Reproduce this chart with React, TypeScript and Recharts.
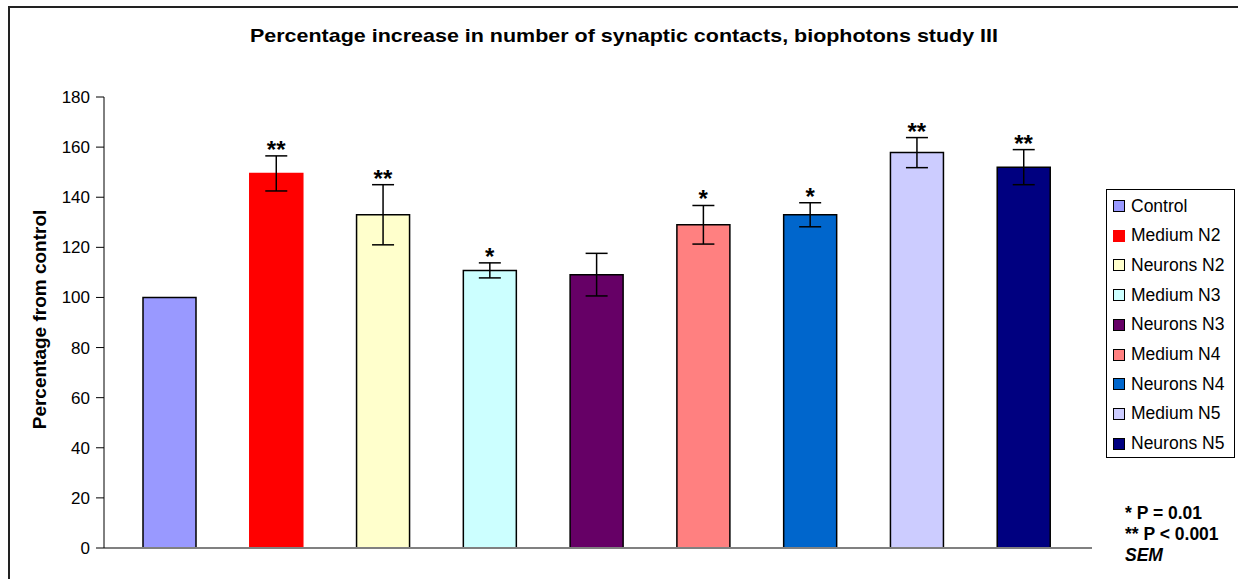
import React from 'react';
import {
  ComposedChart,
  Bar,
  Cell,
  ErrorBar,
  Scatter,
  XAxis,
  YAxis,
} from 'recharts';

const groups = [
  'Control',
  'Medium N2',
  'Neurons N2',
  'Medium N3',
  'Neurons N3',
  'Medium N4',
  'Neurons N4',
  'Medium N5',
  'Neurons N5',
];
const percentages = [100, 149.5, 133, 110.8, 109.1, 129, 133, 157.8, 152];
const sem = [0, 7, 12, 3, 8.5, 7.7, 4.8, 6, 7];
const significance = ['', '**', '**', '*', '', '*', '*', '**', '**'];
const yTicks = [0, 20, 40, 60, 80, 100, 120, 140, 160, 180];

const fills = [
  '#9999FF',
  '#FF0000',
  '#FFFFCC',
  '#CCFFFF',
  '#660066',
  '#FF8080',
  '#0066CC',
  '#CCCCFF',
  '#000080',
];

const data = groups.map((name, i) => ({
  name,
  value: percentages[i],
  err: sem[i],
  top: percentages[i] + sem[i],
  sig: significance[i],
}));

const font = 'Arial, "Liberation Sans", sans-serif';

const Star = (props: any) => {
  const { cx, cy, payload } = props;
  if (!payload || !payload.sig) return <g />;
  return (
    <text
      x={cx}
      y={cy + 2}
      textAnchor="middle"
      fontFamily={font}
      fontWeight="bold"
      fontSize={24}
      fill="#000"
    >
      {payload.sig}
    </text>
  );
};

const AxisTitle = (props: any) => {
  const { viewBox } = props;
  const x = 39;
  const y = viewBox.y + viewBox.height / 2 - 3;
  return (
    <text
      x={x}
      y={y}
      transform={`rotate(-90, ${x}, ${y})`}
      textAnchor="middle"
      dominantBaseline="central"
      fontFamily={font}
      fontWeight="bold"
      fontSize={19}
      fill="#000"
    >
      Percentage from control
    </text>
  );
};

export default function App() {
  return (
    <div
      style={{
        position: 'absolute',
        left: 0,
        top: 0,
        width: 1238,
        height: 579,
        background: '#fff',
        overflow: 'hidden',
        fontFamily: font,
      }}
    >
      <div
        style={{
          position: 'absolute',
          left: 8,
          top: 6,
          width: 1300,
          height: 700,
          borderLeft: '2px solid #222',
          borderTop: '2px solid #222',
        }}
      />
      <div
        style={{
          position: 'absolute',
          left: 0,
          width: 1248,
          top: 25,
          textAlign: 'center',
          fontWeight: 'bold',
          fontSize: 19,
          transform: 'scaleX(1.13)',
          transformOrigin: '624px 0',
        }}
      >
        Percentage increase in number of synaptic contacts, biophotons study III
      </div>

      <div style={{ position: 'absolute', left: 0, top: 0 }}>
        <ComposedChart
          width={1238}
          height={579}
          data={data}
          margin={{ top: 97, right: 146, bottom: 30, left: 0 }}
        >
          <XAxis
            dataKey="name"
            type="category"
            height={1}
            tick={false}
            tickLine={false}
            axisLine={{ stroke: '#808080', strokeWidth: 2 }}
            padding={{ left: 12, right: 15 }}
          />
          <YAxis
            width={104}
            domain={[0, 180]}
            ticks={yTicks}
            interval={0}
            tickSize={8}
            tickMargin={6}
            axisLine={{ stroke: '#000' }}
            tickLine={{ stroke: '#000' }}
            tick={{ fill: '#000', fontSize: 17, fontFamily: font }}
            label={<AxisTitle />}
          />
          <Bar dataKey="value" barSize={53} isAnimationActive={false}>
            {data.map((d, i) => (
              <Cell
                key={d.name}
                fill={fills[i]}
                stroke={i === 1 ? '#FF0000' : '#000'}
                strokeWidth={1.5}
              />
            ))}
            <ErrorBar
              dataKey="err"
              width={11}
              stroke="#000"
              strokeWidth={1.5}
            />
          </Bar>
          <Scatter dataKey="top" shape={<Star />} isAnimationActive={false} />
        </ComposedChart>
      </div>

      <div
        style={{
          position: 'absolute',
          left: 1106,
          top: 189,
          width: 129,
          height: 269,
          border: '1px solid #000',
          boxSizing: 'border-box',
          background: '#fff',
        }}
      >
        {groups.map((g, i) => (
          <div
            key={g}
            style={{
              position: 'absolute',
              left: 6,
              top: 6 + i * 29.7,
              height: 20,
              display: 'flex',
              alignItems: 'center',
              fontSize: 17.5,
              whiteSpace: 'nowrap',
            }}
          >
            <span
              style={{
                display: 'inline-block',
                width: 10,
                height: 10,
                background: fills[i],
                border: i === 1 ? '1px solid #FF0000' : '1px solid #000',
                marginRight: 6,
              }}
            />
            {g}
          </div>
        ))}
      </div>

      <div
        style={{
          position: 'absolute',
          left: 1125,
          top: 503,
          fontWeight: 'bold',
          fontSize: 17.5,
          lineHeight: '21px',
        }}
      >
        <div>* P = 0.01</div>
        <div>** P &lt; 0.001</div>
        <div style={{ fontStyle: 'italic' }}>SEM</div>
      </div>
    </div>
  );
}
